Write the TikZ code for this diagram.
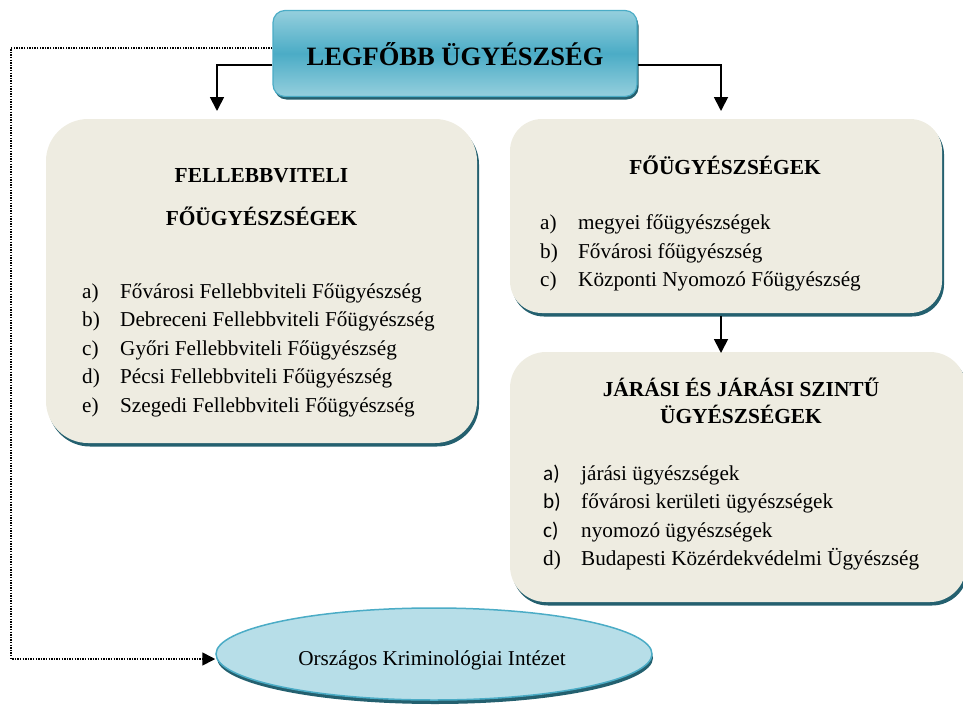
\documentclass[tikz,border=0pt]{standalone}
\usepackage{fontspec}
\setmainfont{Liberation Serif}
\newfontfamily\labelfont{Carlito}
\usetikzlibrary{arrows.meta,shapes.geometric,shadows}
\definecolor{tan}{HTML}{EEECE1}
\definecolor{aqua}{HTML}{4BACC6}
\definecolor{aqualight}{HTML}{95CFDD}
\definecolor{aquapale}{HTML}{B7DEE8}
\definecolor{aquadark}{HTML}{24606F}
\tikzset{
  tanbox/.style={rectangle, fill=tan, draw=none, inner sep=0pt,
    general shadow={shadow xshift=2pt, shadow yshift=-3.5pt, fill=aquadark}},
  topbox/.style={rectangle, rounded corners=12pt, draw=aqua, line width=1.2pt,
    top color=aqualight, bottom color=aqualight, middle color=aqua, inner sep=0pt,
    general shadow={shadow xshift=1.5pt, shadow yshift=-3pt, fill=aquadark}},
  ellbox/.style={ellipse, fill=aquapale, draw=aqua, line width=1.5pt, inner sep=0pt,
    general shadow={shadow xshift=1pt, shadow yshift=-4pt, fill=aquadark}},
  body/.style={inner sep=0pt, font=\fontsize{21.2}{25}\selectfont},
  lab/.style={inner sep=0pt, font=\fontsize{21.2}{25}\labelfont},
  head/.style={inner sep=0pt, font=\fontsize{21.4}{25}\selectfont\bfseries},
  title/.style={inner sep=0pt, font=\fontsize{26.5}{30}\selectfont\bfseries},
  conn/.style={line width=1.8pt, -{Triangle[width=14pt,length=14pt]}},
  dotconn/.style={line width=1.6pt, dash pattern=on 1.4pt off 1.2pt,
    -{Triangle[width=13pt,length=13pt]}},
}
\begin{document}
\begin{tikzpicture}[x=1pt,y=-1pt]
\useasboundingbox (0,0) rectangle (963,704);

% boxes
\node[topbox, minimum width=364pt, minimum height=86pt] (top) at (455,53.5) {};
\node[tanbox, rounded corners=42pt, minimum width=431pt, minimum height=324pt] (fell) at (261.5,281) {};
\node[tanbox, rounded corners=32pt, minimum width=432pt, minimum height=194pt] (fo) at (726,216) {};
\node[tanbox, rounded corners=36pt, minimum width=456pt, minimum height=250pt] (jar) at (738,477) {};
\node[ellbox, minimum width=436pt, minimum height=92pt] (oki) at (434,654) {};

% title
\node[title, anchor=base] (ttl) at (455,65) {LEGFŐBB ÜGYÉSZSÉG};

% left box text
\node[head, anchor=base] (h1a) at (261.5,182) {FELLEBBVITELI};
\node[head, anchor=base] (h1b) at (261.5,225) {FŐÜGYÉSZSÉGEK};
\node[body, anchor=base west] (l1a) at (82,298) {a)};
\node[body, anchor=base west] (t1a) at (120,298) {Fővárosi Fellebbviteli Főügyészség};
\node[body, anchor=base west] (l1b) at (82,326.5) {b)};
\node[body, anchor=base west] (t1b) at (120,326.5) {Debreceni Fellebbviteli Főügyészség};
\node[body, anchor=base west] (l1c) at (82,355) {c)};
\node[body, anchor=base west] (t1c) at (120,355) {Győri Fellebbviteli Főügyészség};
\node[body, anchor=base west] (l1d) at (82,383.5) {d)};
\node[body, anchor=base west] (t1d) at (120,383.5) {Pécsi Fellebbviteli Főügyészség};
\node[body, anchor=base west] (l1e) at (82,412) {e)};
\node[body, anchor=base west] (t1e) at (120,412) {Szegedi Fellebbviteli Főügyészség};

% right top box text
\node[head, anchor=base] (h2) at (725,174) {FŐÜGYÉSZSÉGEK};
\node[body, anchor=base west] (l2a) at (540,229.5) {a)};
\node[body, anchor=base west] (t2a) at (578,229.5) {megyei főügyészségek};
\node[body, anchor=base west] (l2b) at (540,258) {b)};
\node[body, anchor=base west] (t2b) at (578,258) {Fővárosi főügyészség};
\node[body, anchor=base west] (l2c) at (540,286.5) {c)};
\node[body, anchor=base west] (t2c) at (578,286.5) {Központi Nyomozó Főügyészség};

% right bottom box text
\node[head, anchor=base] (h3a) at (741,396) {JÁRÁSI ÉS JÁRÁSI SZINTŰ};
\node[head, anchor=base] (h3b) at (741,423) {ÜGYÉSZSÉGEK};
\node[lab, anchor=base west] (l3a) at (543,480) {a)};
\node[body, anchor=base west] (t3a) at (581,480) {járási ügyészségek};
\node[lab, anchor=base west] (l3b) at (543,508.5) {b)};
\node[body, anchor=base west] (t3b) at (581,508.5) {fővárosi kerületi ügyészségek};
\node[lab, anchor=base west] (l3c) at (543,537) {c)};
\node[body, anchor=base west] (t3c) at (581,537) {nyomozó ügyészségek};
\node[body, anchor=base west] (l3d) at (543,565) {d)};
\node[body, anchor=base west] (t3d) at (581,565) {Budapesti Közérdekvédelmi Ügyészség};

% ellipse text
\node[body, anchor=base] (okit) at (432,665) {Országos Kriminológiai Intézet};

% connectors
\coordinate (la) at (217,111);
\coordinate (ra) at (721,111);
\coordinate (ms) at (721,316);
\coordinate (me) at (721,353);
\coordinate (dc1) at (11,48);
\coordinate (dc2) at (11,659);
\draw[conn] ([yshift=-11.5pt]top.west) -| (la);
\draw[conn] ([yshift=-11.5pt]top.east) -| (ra);
\draw[conn] (ms) -- (me);
\draw[dotconn] ([yshift=5.5pt]top.west) -- (dc1) -- (dc2) -- ([yshift=-5pt]oki.west);
\end{tikzpicture}
\end{document}
